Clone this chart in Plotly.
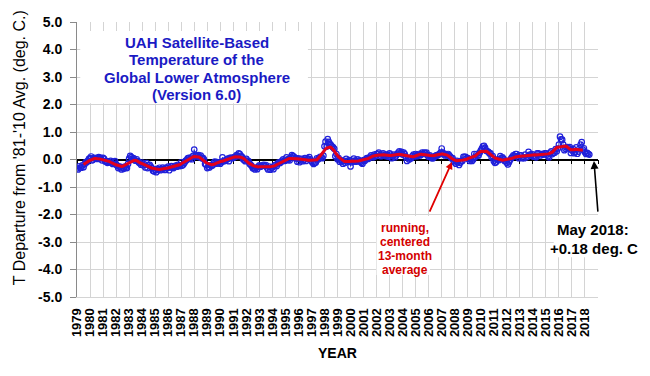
import numpy as np
import plotly.graph_objects as go

# ---------------- data (UAH v6.0 global lower-troposphere, deg C, monthly) ----------------
years = list(range(1979, 2019))
t1979 = [-0.32, -0.36, -0.25, -0.30, -0.30, -0.21, -0.28, -0.17, -0.09, -0.10, -0.05, 0.02]
t1980 = [0.05, 0.11, -0.03, 0.00, 0.06, 0.03, 0.05, 0.02, 0.09, 0.04, 0.06, -0.03]
t1981 = [0.06, 0.02, -0.07, -0.06, -0.12, -0.08, -0.10, -0.05, -0.13, -0.16, -0.10, -0.06]
t1982 = [-0.18, -0.22, -0.31, -0.26, -0.27, -0.36, -0.30, -0.34, -0.26, -0.30, -0.31, -0.16]
t1983 = [0.03, 0.13, 0.09, 0.02, 0.05, -0.03, -0.04, 0.01, -0.06, -0.11, -0.13, -0.19]
t1984 = [-0.11, -0.21, -0.18, -0.29, -0.13, -0.31, -0.21, -0.19, -0.26, -0.31, -0.41, -0.43]
t1985 = [-0.37, -0.46, -0.34, -0.38, -0.30, -0.39, -0.35, -0.29, -0.33, -0.38, -0.30, -0.31]
t1986 = [-0.26, -0.39, -0.29, -0.24, -0.30, -0.31, -0.26, -0.22, -0.26, -0.19, -0.22, -0.24]
t1987 = [-0.10, -0.22, -0.18, -0.12, -0.05, -0.02, 0.04, 0.06, 0.02, 0.07, 0.01, 0.13]
t1988 = [0.36, 0.11, 0.15, 0.12, 0.16, 0.08, 0.14, 0.05, 0.06, 0.01, -0.16, -0.19]
t1989 = [-0.31, -0.26, -0.29, -0.21, -0.23, -0.21, -0.12, -0.08, -0.15, -0.09, -0.14, -0.10]
t1990 = [-0.15, -0.10, 0.08, -0.06, -0.05, -0.03, 0.00, 0.03, -0.06, 0.06, 0.06, 0.05]
t1991 = [0.06, 0.09, 0.11, 0.16, 0.12, 0.22, 0.20, 0.13, 0.10, 0.01, -0.02, -0.06]
t1992 = [0.02, -0.04, -0.06, -0.15, -0.19, -0.24, -0.32, -0.31, -0.36, -0.30, -0.35, -0.26]
t1993 = [-0.21, -0.26, -0.24, -0.22, -0.19, -0.23, -0.20, -0.29, -0.36, -0.26, -0.37, -0.30]
t1994 = [-0.29, -0.35, -0.21, -0.19, -0.24, -0.14, -0.10, -0.13, -0.09, -0.04, 0.01, -0.05]
t1995 = [-0.04, 0.08, -0.02, 0.02, -0.03, 0.08, 0.16, 0.12, 0.10, 0.05, 0.04, -0.08]
t1996 = [0.04, -0.10, 0.00, 0.02, -0.06, -0.02, 0.05, -0.05, 0.04, 0.02, 0.09, 0.01]
t1997 = [-0.06, -0.11, -0.16, -0.12, -0.11, 0.04, 0.00, 0.05, 0.10, 0.08, 0.05, 0.14]
t1998 = [0.48, 0.65, 0.47, 0.74, 0.64, 0.57, 0.52, 0.47, 0.44, 0.39, 0.12, 0.20]
t1999 = [0.01, 0.05, -0.08, -0.02, -0.07, -0.15, -0.05, -0.12, 0.02, -0.05, -0.07, -0.02]
t2000 = [-0.25, -0.10, -0.05, 0.03, -0.05, -0.08, 0.00, 0.00, -0.05, -0.08, -0.12, -0.15]
t2001 = [-0.02, -0.05, 0.00, 0.05, 0.02, 0.05, 0.10, 0.15, 0.10, 0.08, 0.18, 0.12]
t2002 = [0.20, 0.21, 0.25, 0.15, 0.12, 0.18, 0.22, 0.14, 0.18, 0.12, 0.18, 0.10]
t2003 = [0.22, 0.18, 0.05, 0.12, 0.18, 0.08, 0.15, 0.20, 0.25, 0.30, 0.22, 0.28]
t2004 = [0.18, 0.25, 0.20, 0.10, -0.05, 0.05, 0.00, 0.05, 0.05, 0.12, 0.18, 0.12]
t2005 = [0.20, 0.12, 0.15, 0.20, 0.15, 0.18, 0.25, 0.20, 0.25, 0.22, 0.25, 0.15]
t2006 = [0.10, 0.15, 0.10, 0.05, 0.05, 0.10, 0.12, 0.15, 0.15, 0.18, 0.20, 0.25]
t2007 = [0.40, 0.25, 0.20, 0.15, 0.20, 0.15, 0.20, 0.15, 0.10, 0.05, 0.05, -0.05]
t2008 = [-0.10, -0.15, -0.05, -0.10, -0.20, -0.12, -0.05, -0.05, 0.10, 0.10, 0.10, 0.05]
t2009 = [0.05, 0.02, -0.05, 0.00, -0.05, 0.00, 0.20, 0.10, 0.20, 0.15, 0.15, 0.25]
t2010 = [0.32, 0.40, 0.48, 0.50, 0.42, 0.32, 0.30, 0.28, 0.22, 0.22, 0.08, 0.12]
t2011 = [-0.05, -0.12, -0.10, 0.00, 0.00, -0.02, 0.12, 0.05, 0.08, 0.02, -0.05, -0.05]
t2012 = [-0.12, -0.18, -0.10, -0.02, 0.05, 0.10, 0.15, 0.12, 0.20, 0.20, 0.12, 0.05]
t2013 = [0.15, 0.15, 0.05, 0.08, 0.05, 0.18, 0.08, 0.10, 0.28, 0.15, 0.18, 0.20]
t2014 = [0.12, 0.10, 0.10, 0.08, 0.22, 0.22, 0.20, 0.15, 0.20, 0.20, 0.18, 0.22]
t2015 = [0.22, 0.18, 0.12, 0.08, 0.25, 0.30, 0.20, 0.25, 0.25, 0.38, 0.30, 0.40]
t2016 = [0.54, 0.83, 0.73, 0.72, 0.54, 0.34, 0.39, 0.44, 0.45, 0.41, 0.45, 0.24]
t2017 = [0.33, 0.39, 0.23, 0.27, 0.44, 0.21, 0.29, 0.41, 0.54, 0.63, 0.36, 0.41]
t2018 = [0.26, 0.20, 0.24, 0.21, 0.18]

monthly_by_year = [t1979, t1980, t1981, t1982, t1983, t1984, t1985, t1986, t1987, t1988,
                   t1989, t1990, t1991, t1992, t1993, t1994, t1995, t1996, t1997, t1998,
                   t1999, t2000, t2001, t2002, t2003, t2004, t2005, t2006, t2007, t2008,
                   t2009, t2010, t2011, t2012, t2013, t2014, t2015, t2016, t2017, t2018]

x_tick_years = list(range(1979, 2020))
x_tick_labels = [str(y) for y in range(1979, 2019)] + [""]
y_tick_vals = [-5, -4, -3, -2, -1, 0, 1, 2, 3, 4, 5]
y_tick_labels = ["-5.0", "-4.0", "-3.0", "-2.0", "-1.0", "0.0", "1.0", "2.0", "3.0", "4.0", "5.0"]

# ---------------- derived series ----------------
xs, vals = [], []
for yr, ms in zip(years, monthly_by_year):
    for i, v in enumerate(ms):
        xs.append(yr + i / 12.0)
        vals.append(v)
xs = np.array(xs)
vals = np.array(vals)
run13 = np.convolve(vals, np.ones(13) / 13.0, mode="valid")
x13 = xs[6:-6]

FONT = "Arial, Liberation Sans, sans-serif"
BLUE = "#2020da"
RED = "#e3001b"
GRID = "#d4d4d4"

fig = go.Figure()
fig.add_trace(go.Scatter(
    x=xs, y=vals, mode="lines+markers",
    line=dict(color=BLUE, width=0.9),
    marker=dict(symbol="circle-open", size=5.5, color=BLUE, line=dict(width=1.2, color=BLUE)),
    showlegend=False, hoverinfo="skip"))
fig.add_trace(go.Scatter(
    x=x13, y=run13, mode="lines",
    line=dict(color=RED, width=3),
    showlegend=False, hoverinfo="skip"))

# zero line with year ticks (overlay axis placed at y=0, the middle of the plot)
fig.update_layout(
    xaxis2=dict(overlaying="x", anchor="free", position=0.5, range=[1979, 2019],
                tickvals=x_tick_years, showticklabels=False, ticks="outside",
                ticklen=4, tickcolor="black", tickwidth=1, automargin=False,
                showline=True, linecolor="black", linewidth=1.6,
                showgrid=False, zeroline=False, layer="below traces"))
fig.add_trace(go.Scatter(x=[1979], y=[None], xaxis="x2", showlegend=False, hoverinfo="skip"))

# white boxes behind text
fig.add_shape(type="rect", xref="x", yref="y", x0=1979.25, x1=1996.73, y0=2.05, y1=4.67,
              fillcolor="white", line=dict(width=0), layer="between")
fig.add_shape(type="rect", xref="x", yref="y", x0=2002.0, x1=2006.1, y0=-4.2, y1=-2.05,
              fillcolor="white", line=dict(width=0), layer="between")
fig.add_shape(type="rect", xref="x", yref="y", x0=2015.6, x1=2019.0, y0=-3.55, y1=-2.05,
              fillcolor="white", line=dict(width=0), layer="between")

title_lines = ["UAH Satellite-Based", "Temperature of the", "Global Lower Atmosphere", "(Version 6.0)"]
title_y = [4.27, 3.65, 3.0, 2.38]
for txt, yy in zip(title_lines, title_y):
    fig.add_annotation(x=1988.2, y=yy, xref="x", yref="y", text=f"<b>{txt}</b>",
                       xanchor="center", yanchor="middle",
                       showarrow=False, font=dict(family=FONT, size=15, color="#1a1ac4"))

red_lines = ["running,", "centered", "13-month", "average"]
red_y = [-2.49, -3.0, -3.51, -4.02]
for txt, yy in zip(red_lines, red_y):
    fig.add_annotation(x=2004.15, y=yy, xref="x", yref="y", text=f"<b>{txt}</b>",
                       xanchor="center", yanchor="middle",
                       showarrow=False, font=dict(family=FONT, size=12, color="#d40000"))

fig.add_annotation(x=2018.62, y=-2.56, xref="x", yref="y", text="<b>May 2018:</b>",
                   xanchor="center", yanchor="middle",
                   showarrow=False, font=dict(family=FONT, size=15, color="black"))
fig.add_annotation(x=2018.7, y=-3.22, xref="x", yref="y", text="<b>+0.18 deg. C</b>",
                   xanchor="center", yanchor="middle",
                   showarrow=False, font=dict(family=FONT, size=15, color="black"))

# arrows
fig.add_annotation(x=2018.69, y=-0.05, ax=2019.0, ay=-1.95, xref="x", yref="y",
                   axref="x", ayref="y", text="", showarrow=True, arrowhead=2,
                   arrowsize=1, arrowwidth=1.6, arrowcolor="black")
fig.add_annotation(x=2007.79, y=-0.09, ax=2006.02, ay=-1.95, xref="x", yref="y",
                   axref="x", ayref="y", text="", showarrow=True, arrowhead=2,
                   arrowsize=0.8, arrowwidth=1.8, arrowcolor="#e00000")

# axis titles
fig.add_annotation(x=-0.109, y=0.542, xref="paper", yref="paper",
                   xanchor="center", yanchor="middle",
                   text="T Departure from '81-'10 Avg. (deg. C.)", textangle=-90,
                   showarrow=False, font=dict(family=FONT, size=16, color="black"))
fig.add_annotation(x=0.5, y=-0.204, xref="paper", yref="paper", text="<b>YEAR</b>",
                   xanchor="center", yanchor="middle",
                   showarrow=False, font=dict(family=FONT, size=14, color="black"))

# page body has an 8px margin, so the figure is 634x360 placed at (8, 8)
fig.update_layout(
    width=634, height=360,
    margin=dict(l=69, r=44, t=14, b=71, autoexpand=False),
    paper_bgcolor="white", plot_bgcolor="white",
    xaxis=dict(range=[1979, 2019], tickvals=x_tick_years, ticktext=x_tick_labels,
               tickangle=-90, showgrid=True, gridcolor=GRID, gridwidth=1,
               zeroline=False, showline=True, linecolor=GRID, ticks="",
               ticklabelstandoff=5, automargin=False,
               tickfont=dict(family=FONT, size=13, color="black", weight="bold")),
    yaxis=dict(range=[-5, 5], tickvals=y_tick_vals, ticktext=y_tick_labels,
               showgrid=True, gridcolor=GRID, gridwidth=1, zeroline=False,
               showline=True, linecolor="#8a8a8a", ticks="outside", ticklen=6,
               tickcolor="#8a8a8a", ticklabelstandoff=5, automargin=False,
               tickfont=dict(family=FONT, size=14, color="black", weight="bold")),
)

fig.write_html("out.html")
